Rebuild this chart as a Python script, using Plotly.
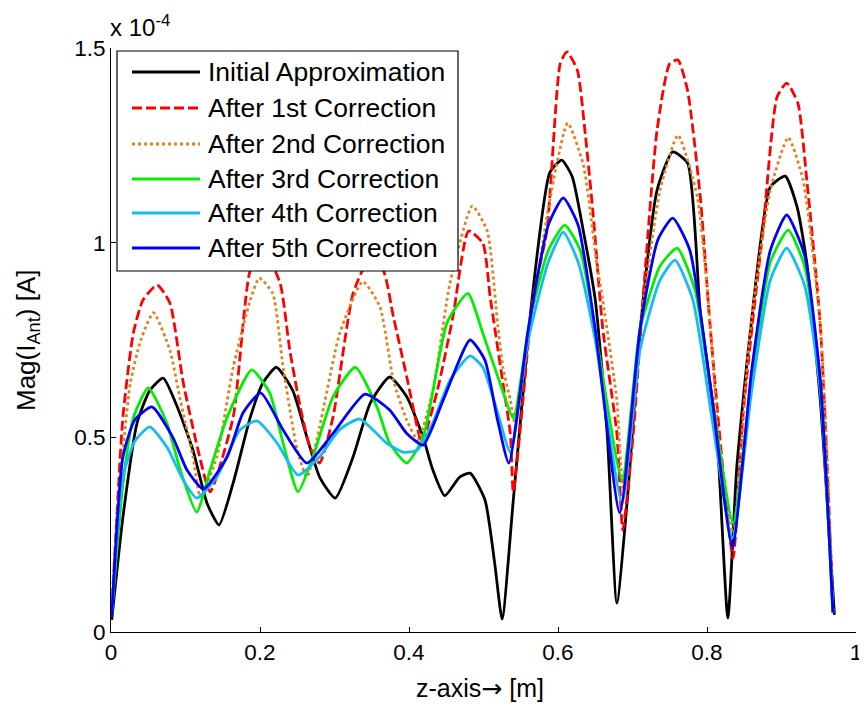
import plotly.graph_objects as go

# ---------------- data (values in units of 1e-4 A) ----------------
names = ["Initial Approximation", "After 1st Correction", "After 2nd Correction",
         "After 3rd Correction", "After 4th Correction", "After 5th Correction"]

x_init = [0.001, 0.016, 0.035, 0.052, 0.070, 0.089, 0.110, 0.129, 0.145, 0.164, 0.187, 0.204, 0.222,
          0.244, 0.263, 0.280, 0.301, 0.325, 0.348, 0.374, 0.397, 0.419, 0.432, 0.448, 0.468, 0.482,
          0.502, 0.515, 0.525, 0.540, 0.565, 0.589, 0.605, 0.619, 0.634, 0.650, 0.666, 0.679, 0.693,
          0.710, 0.733, 0.754, 0.774, 0.791, 0.813, 0.828, 0.840, 0.858, 0.885, 0.905, 0.921, 0.934,
          0.952, 0.971]
y_init = [0.031, 0.295, 0.537, 0.620, 0.652, 0.578, 0.467, 0.330, 0.275, 0.383, 0.552, 0.640, 0.680,
          0.620, 0.500, 0.398, 0.344, 0.450, 0.588, 0.655, 0.604, 0.500, 0.416, 0.350, 0.398, 0.408,
          0.339, 0.177, 0.033, 0.339, 0.853, 1.180, 1.212, 1.170, 1.030, 0.853, 0.510, 0.074, 0.339,
          0.768, 1.135, 1.233, 1.204, 0.820, 0.510, 0.036, 0.424, 0.768, 1.143, 1.171, 1.091, 0.947,
          0.596, 0.044]

x_c1 = [0.001, 0.016, 0.030, 0.043, 0.062, 0.079, 0.097, 0.119, 0.133, 0.164, 0.187, 0.205, 0.227,
        0.240, 0.254, 0.267, 0.280, 0.298, 0.325, 0.345, 0.365, 0.379, 0.397, 0.411, 0.417, 0.438,
        0.459, 0.480, 0.499, 0.509, 0.526, 0.536, 0.540, 0.553, 0.566, 0.585, 0.603, 0.612, 0.626,
        0.636, 0.647, 0.660, 0.679, 0.687, 0.701, 0.714, 0.733, 0.750, 0.761, 0.774, 0.791, 0.804,
        0.821, 0.835, 0.848, 0.862, 0.875, 0.894, 0.907, 0.922, 0.934, 0.952, 0.965, 0.969]
y_c1 = [0.050, 0.552, 0.768, 0.853, 0.891, 0.845, 0.640, 0.450, 0.360, 0.552, 0.930, 0.980, 0.896,
        0.724, 0.578, 0.475, 0.434, 0.552, 0.870, 0.950, 0.930, 0.810, 0.655, 0.527, 0.485, 0.620,
        0.810, 1.030, 0.999, 0.860, 0.640, 0.510, 0.360, 0.596, 0.853, 1.030, 1.460, 1.490, 1.443,
        1.290, 1.076, 0.780, 0.510, 0.262, 0.510, 0.853, 1.290, 1.460, 1.469, 1.390, 1.117, 0.790,
        0.424, 0.190, 0.552, 0.810, 1.030, 1.374, 1.410, 1.358, 1.160, 0.790, 0.254, 0.056]

x_c2 = [0.001, 0.008, 0.026, 0.040, 0.057, 0.079, 0.093, 0.110, 0.120, 0.142, 0.164, 0.187, 0.199,
        0.217, 0.231, 0.250, 0.263, 0.280, 0.307, 0.338, 0.361, 0.379, 0.397, 0.412, 0.432, 0.455,
        0.485, 0.505, 0.519, 0.526, 0.536, 0.542, 0.558, 0.589, 0.613, 0.634, 0.652, 0.660, 0.679,
        0.687, 0.710, 0.737, 0.761, 0.787, 0.804, 0.815, 0.835, 0.858, 0.885, 0.909, 0.929, 0.952,
        0.962, 0.969]
y_c2 = [0.060, 0.295, 0.640, 0.750, 0.820, 0.724, 0.596, 0.450, 0.347, 0.450, 0.680, 0.853, 0.909,
        0.870, 0.680, 0.467, 0.398, 0.527, 0.767, 0.900, 0.835, 0.647, 0.544, 0.493, 0.620, 0.896,
        1.094, 1.030, 0.790, 0.680, 0.596, 0.537, 0.724, 1.110, 1.307, 1.200, 0.947, 0.853, 0.596,
        0.372, 0.776, 1.135, 1.276, 1.117, 0.800, 0.510, 0.254, 0.776, 1.135, 1.270, 1.160, 0.790,
        0.424, 0.056]

x_c3 = [0.001, 0.016, 0.030, 0.050, 0.075, 0.093, 0.115, 0.133, 0.156, 0.189, 0.213, 0.231, 0.251,
        0.271, 0.298, 0.328, 0.357, 0.374, 0.397, 0.419, 0.451, 0.479, 0.499, 0.522, 0.540, 0.562,
        0.587, 0.609, 0.630, 0.650, 0.686, 0.710, 0.737, 0.760, 0.784, 0.807, 0.835, 0.860, 0.885,
        0.909, 0.931, 0.952, 0.969]
y_c3 = [0.050, 0.380, 0.550, 0.627, 0.537, 0.416, 0.308, 0.416, 0.552, 0.673, 0.614, 0.485, 0.360,
        0.450, 0.604, 0.680, 0.578, 0.485, 0.434, 0.500, 0.794, 0.870, 0.768, 0.640, 0.550, 0.800,
        0.980, 1.045, 0.980, 0.776, 0.390, 0.776, 0.940, 0.986, 0.878, 0.596, 0.280, 0.647, 0.950,
        1.032, 0.940, 0.647, 0.050]

x_c4 = [0.001, 0.016, 0.032, 0.052, 0.075, 0.097, 0.115, 0.142, 0.173, 0.196, 0.223, 0.251, 0.280,
        0.307, 0.334, 0.370, 0.392, 0.411, 0.432, 0.455, 0.482, 0.499, 0.518, 0.536, 0.560, 0.587,
        0.607, 0.627, 0.650, 0.686, 0.710, 0.737, 0.757, 0.781, 0.807, 0.834, 0.860, 0.885, 0.907,
        0.931, 0.952, 0.969]
y_c4 = [0.040, 0.400, 0.490, 0.527, 0.475, 0.390, 0.344, 0.398, 0.519, 0.542, 0.485, 0.403, 0.450,
        0.520, 0.547, 0.485, 0.462, 0.467, 0.537, 0.647, 0.709, 0.680, 0.570, 0.462, 0.750, 0.950,
        1.027, 0.950, 0.750, 0.331, 0.724, 0.904, 0.955, 0.853, 0.544, 0.241, 0.620, 0.904, 0.986,
        0.890, 0.620, 0.050]

x_c5 = [0.001, 0.016, 0.032, 0.055, 0.083, 0.102, 0.124, 0.156, 0.177, 0.201, 0.231, 0.263, 0.298,
        0.341, 0.374, 0.397, 0.419, 0.446, 0.482, 0.502, 0.518, 0.534, 0.560, 0.587, 0.607, 0.627,
        0.650, 0.683, 0.710, 0.734, 0.754, 0.777, 0.807, 0.834, 0.860, 0.885, 0.907, 0.931, 0.952,
        0.969]
y_c5 = [0.040, 0.450, 0.545, 0.578, 0.500, 0.416, 0.367, 0.450, 0.562, 0.614, 0.519, 0.434, 0.510,
        0.611, 0.570, 0.510, 0.480, 0.596, 0.750, 0.698, 0.552, 0.434, 0.776, 1.045, 1.115, 1.045,
        0.776, 0.306, 0.776, 1.007, 1.063, 0.980, 0.596, 0.218, 0.673, 0.980, 1.071, 0.968, 0.647,
        0.050]

x_ticks = [0, 0.2, 0.4, 0.6, 0.8, 1]
x_tick_text = ["0", "0.2", "0.4", "0.6", "0.8", "1"]
y_ticks = [0, 0.5, 1, 1.5]
y_tick_text = ["0", "0.5", "1", "1.5"]

# ---------------- styles ----------------
colors = ["#000000", "#ff0000", "#dd8420", "#00ee00", "#14bcf0", "#0000ff"]
dashes = ["solid", "10px,4px", "3px,3px", "solid", "solid", "solid"]
xs = [x_init, x_c1, x_c2, x_c3, x_c4, x_c5]
ys = [y_init, y_c1, y_c2, y_c3, y_c4, y_c5]

FONT = "Liberation Sans, Arial, sans-serif"

fig = go.Figure()
for name, xv, yv, c, d in zip(names, xs, ys, colors, dashes):
    fig.add_trace(go.Scatter(x=xv, y=yv, mode="lines", name=name,
                             line=dict(color=c, width=2.8, dash=d, shape="spline", smoothing=0.55)))

# the page body adds an 8px offset; plot area on the page: x 111..856, y 48..632
OFF = 8
PX0, PX1, PY0, PY1 = 111, 856, 48, 632
W, H = 867 - OFF, 709 - OFF
L, T = PX0 - OFF, PY0 - OFF
R = W - (PX1 - OFF)
B = H - (PY1 - OFF)
pw, ph = PX1 - PX0, PY1 - PY0

def px(X):
    return (X - PX0) / pw

def py(Y):
    return (PY1 - Y) / ph

# manual legend (matches long line samples of the original)
shapes = [dict(type="rect", xref="paper", yref="paper", x0=px(117), x1=px(458), y0=py(271), y1=py(51),
               line=dict(color="black", width=1.2), fillcolor="white", layer="above")]
annotations = []
rows = [72, 108, 144, 179, 213, 248]
for name, c, d, r in zip(names, colors, dashes, rows):
    shapes.append(dict(type="line", xref="paper", yref="paper", x0=px(132), x1=px(200), y0=py(r), y1=py(r),
                       line=dict(color=c, width=2.8, dash=d), layer="above"))
    annotations.append(dict(xref="paper", yref="paper", x=px(206), y=py(r), text=name, showarrow=False,
                            xanchor="left", yanchor="middle", font=dict(family=FONT, size=26.5, color="black")))

annotations += [
    dict(xref="paper", yref="paper", x=px(108), y=py(43), text="x 10<sup>-4</sup>", showarrow=False,
         xanchor="left", yanchor="bottom", font=dict(family=FONT, size=24, color="black")),
    dict(xref="paper", yref="paper", x=px(480), y=py(688),
         text="z-axis<span style=\"font-family:DejaVu Sans\">\u2192</span> [m]", showarrow=False,
         xanchor="center", yanchor="middle", font=dict(family=FONT, size=25, color="black")),
    dict(xref="paper", yref="paper", x=px(27), y=py(341), text="Mag(I<sub>Ant</sub>) [A]", showarrow=False,
         textangle=-90, xanchor="center", yanchor="middle", font=dict(family=FONT, size=26, color="black")),
]

fig.update_layout(
    width=W, height=H, margin=dict(l=L, r=R, t=T, b=B, autoexpand=False),
    paper_bgcolor="white", plot_bgcolor="white", showlegend=False,
    font=dict(family=FONT, size=22, color="black"),
    shapes=shapes, annotations=annotations,
    xaxis=dict(range=[0, 1], tickvals=x_ticks, ticktext=x_tick_text, ticks="inside", ticklen=5,
               tickcolor="black", showline=True, linecolor="black", linewidth=1, showgrid=False,
               zeroline=False, tickfont=dict(family=FONT, size=22.5)),
    yaxis=dict(range=[0, 1.5], tickvals=y_ticks, ticktext=y_tick_text, ticks="inside", ticklen=5,
               tickcolor="black", showline=True, linecolor="black", linewidth=1, showgrid=False,
               zeroline=False, tickfont=dict(family=FONT, size=22.5)),
)

fig.write_html("out.html")
